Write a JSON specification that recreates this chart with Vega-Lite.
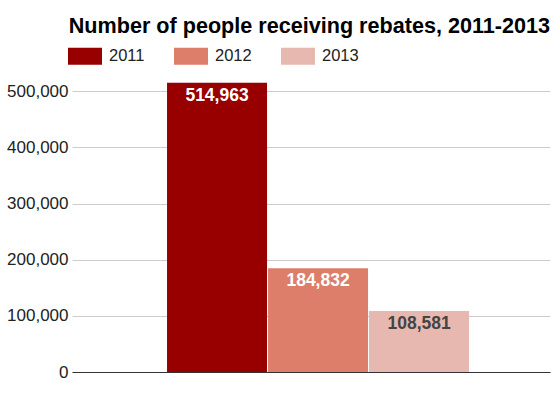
{
  "$schema": "https://vega.github.io/schema/vega-lite/v6.json",
  "width": 478,
  "height": 292,
  "autosize": {"type": "none"},
  "padding": {"left": 72, "top": 80, "right": 4, "bottom": 26},
  "background": "white",
  "config": {"font": "Liberation Sans", "view": {"stroke": null}},
  "title": {
    "text": "Number of people receiving rebates, 2011-2013",
    "anchor": "end",
    "frame": "group",
    "fontSize": 21.6,
    "fontWeight": "bold",
    "color": "#000000",
    "offset": 1,
    "font": "Liberation Sans"
  },
  "data": {
    "values": [
      {"year": "2011", "people": 514963},
      {"year": "2012", "people": 184832},
      {"year": "2013", "people": 108581}
    ]
  },
  "encoding": {
    "x": {
      "field": "year",
      "type": "nominal",
      "scale": {"paddingInner": 0.01, "paddingOuter": 0.871, "align": 0.54},
      "axis": {"labels": false, "ticks": false, "title": null, "domainColor": "#333333", "domainWidth": 1, "grid": false}
    },
    "y": {
      "field": "people",
      "type": "quantitative",
      "scale": {"domain": [0, 520000], "nice": false},
      "axis": {
        "values": [0, 100000, 200000, 300000, 400000, 500000],
        "format": ",.0f",
        "title": null,
        "domain": false,
        "ticks": false,
        "labelPadding": 4,
        "labelFontSize": 17,
        "labelColor": "#222222",
        "gridColor": "#cccccc",
        "gridWidth": 1
      }
    }
  },
  "layer": [
    {
      "mark": {"type": "bar"},
      "encoding": {
        "color": {
          "field": "year",
          "type": "nominal",
          "scale": {"domain": ["2011", "2012", "2013"], "range": ["#980000", "#dd7e6b", "#e6b8af"]},
          "legend": {
            "title": null,
            "orient": "none",
            "direction": "horizontal",
            "legendX": -4,
            "legendY": -41,
            "symbolType": "M-1,-0.5H1V0.5H-1Z",
            "symbolSize": 1156,
            "symbolStrokeWidth": 0,
            "symbolOpacity": 1,
            "labelFontSize": 16.5,
            "labelColor": "#222222",
            "labelOffset": 7,
            "columnPadding": 29
          }
        }
      }
    },
    {
      "mark": {"type": "text", "baseline": "top", "dy": 4, "fontSize": 17.5, "fontWeight": "bold"},
      "encoding": {
        "text": {"field": "people", "type": "quantitative", "format": ",.0f"},
        "color": {"condition": {"test": "datum.year == '2013'", "value": "#444444"}, "value": "#ffffff"}
      }
    }
  ]
}
